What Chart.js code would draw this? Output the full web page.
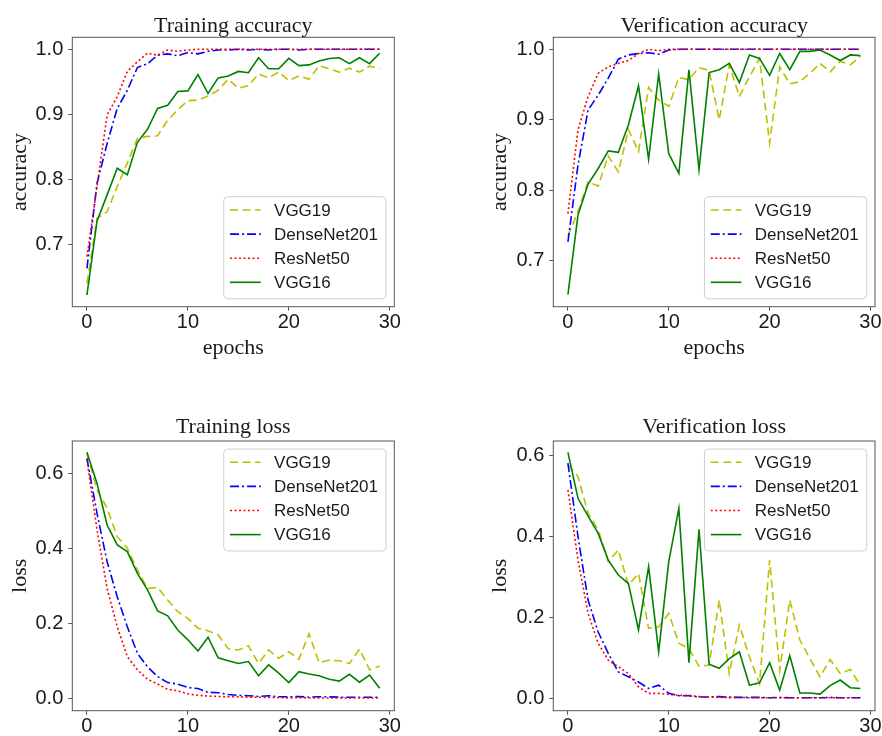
<!DOCTYPE html>
<html>
<head>
<meta charset="utf-8">
<script src="https://cdn.jsdelivr.net/npm/chart.js@4.4.0/dist/chart.umd.min.js"></script>
<style>
  html, body { margin: 0; padding: 0; background: #fff; }
  #wrap { position: relative; width: 882px; height: 736px; overflow: hidden; }
  #wrap canvas { position: absolute; left: 0; top: 0; }
</style>
</head>
<body>
<div id="wrap">
  <canvas id="c1" width="882" height="736"></canvas>
  <canvas id="c2" width="882" height="736"></canvas>
  <canvas id="c3" width="882" height="736"></canvas>
  <canvas id="c4" width="882" height="736"></canvas>
</div>
<script>
// epochs and tick labels
const epochs = [0, 1, 2, 3, 4, 5, 6, 7, 8, 9, 10, 11, 12, 13, 14, 15, 16, 17, 18, 19, 20, 21, 22, 23, 24, 25, 26, 27, 28, 29];
const epochTicks = [0, 10, 20, 30];
const accTicks = [0.7, 0.8, 0.9, 1.0];
const lossTicks = [0.0, 0.2, 0.4, 0.6];
const models = ['VGG19', 'DenseNet201', 'ResNet50', 'VGG16'];

// Training accuracy
const trainAccVGG19 = [0.640, 0.740, 0.750, 0.789, 0.825, 0.863, 0.866, 0.867, 0.891, 0.907, 0.921, 0.922, 0.928, 0.937, 0.954, 0.940, 0.944, 0.962, 0.956, 0.965, 0.952, 0.959, 0.954, 0.975, 0.970, 0.965, 0.971, 0.965, 0.974, 0.970];
const trainAccDenseNet201 = [0.663, 0.794, 0.855, 0.909, 0.937, 0.972, 0.978, 0.991, 0.993, 0.990, 0.995, 0.993, 0.997, 0.999, 0.999, 1.000, 0.999, 1.000, 0.999, 1.000, 1.000, 0.999, 1.000, 1.000, 1.000, 1.000, 1.000, 1.000, 1.000, 1.000];
const trainAccResNet50 = [0.681, 0.789, 0.899, 0.927, 0.966, 0.981, 0.994, 0.991, 0.999, 0.997, 0.999, 1.000, 1.000, 1.000, 1.000, 1.000, 1.000, 1.000, 1.000, 1.000, 1.000, 1.000, 1.000, 1.000, 1.000, 1.000, 1.000, 1.000, 1.000, 1.000];
const trainAccVGG16 = [0.622, 0.736, 0.776, 0.817, 0.807, 0.857, 0.877, 0.909, 0.914, 0.935, 0.936, 0.961, 0.932, 0.956, 0.959, 0.966, 0.964, 0.987, 0.970, 0.970, 0.986, 0.975, 0.976, 0.982, 0.986, 0.987, 0.978, 0.987, 0.978, 0.994];

// Verification accuracy
const valAccVGG19 = [0.735, 0.770, 0.812, 0.806, 0.849, 0.826, 0.886, 0.855, 0.946, 0.928, 0.919, 0.960, 0.957, 0.974, 0.970, 0.900, 0.978, 0.933, 0.961, 0.987, 0.867, 0.975, 0.951, 0.954, 0.966, 0.980, 0.968, 0.983, 0.978, 0.990];
const valAccDenseNet201 = [0.727, 0.836, 0.914, 0.935, 0.959, 0.986, 0.992, 0.994, 0.995, 0.993, 0.999, 1.000, 1.000, 1.000, 1.000, 1.000, 1.000, 1.000, 1.000, 1.000, 1.000, 1.000, 1.000, 1.000, 1.000, 1.000, 1.000, 1.000, 1.000, 1.000];
const valAccResNet50 = [0.767, 0.886, 0.933, 0.966, 0.975, 0.980, 0.984, 0.994, 1.000, 0.998, 1.000, 1.000, 1.000, 1.000, 1.000, 1.000, 1.000, 1.000, 1.000, 1.000, 1.000, 1.000, 1.000, 1.000, 1.000, 1.000, 1.000, 1.000, 1.000, 1.000];
const valAccVGG16 = [0.652, 0.765, 0.809, 0.831, 0.856, 0.854, 0.893, 0.948, 0.844, 0.965, 0.852, 0.824, 0.971, 0.829, 0.967, 0.971, 0.980, 0.953, 0.992, 0.987, 0.963, 0.994, 0.971, 0.997, 0.997, 0.999, 0.992, 0.984, 0.992, 0.991];

// Training loss
const trainLossVGG19 = [0.653, 0.556, 0.507, 0.431, 0.400, 0.342, 0.293, 0.296, 0.262, 0.231, 0.213, 0.187, 0.180, 0.169, 0.132, 0.129, 0.140, 0.093, 0.129, 0.107, 0.124, 0.104, 0.172, 0.095, 0.102, 0.100, 0.093, 0.131, 0.076, 0.086];
const trainLossDenseNet201 = [0.640, 0.493, 0.364, 0.271, 0.191, 0.120, 0.084, 0.058, 0.042, 0.038, 0.029, 0.026, 0.016, 0.015, 0.010, 0.008, 0.007, 0.005, 0.007, 0.004, 0.004, 0.005, 0.003, 0.004, 0.004, 0.003, 0.003, 0.003, 0.003, 0.003];
const trainLossResNet50 = [0.636, 0.449, 0.293, 0.191, 0.111, 0.076, 0.051, 0.038, 0.024, 0.020, 0.012, 0.008, 0.006, 0.005, 0.004, 0.004, 0.003, 0.003, 0.002, 0.002, 0.001, 0.002, 0.001, 0.001, 0.001, 0.001, 0.001, 0.001, 0.001, 0.001];
const trainLossVGG16 = [0.656, 0.573, 0.462, 0.409, 0.391, 0.333, 0.289, 0.233, 0.220, 0.182, 0.156, 0.126, 0.163, 0.108, 0.100, 0.093, 0.098, 0.060, 0.089, 0.067, 0.042, 0.071, 0.065, 0.060, 0.051, 0.046, 0.064, 0.043, 0.062, 0.027];

// Verification loss
const valLossVGG19 = [0.578, 0.549, 0.458, 0.417, 0.338, 0.367, 0.280, 0.309, 0.173, 0.177, 0.210, 0.136, 0.123, 0.079, 0.082, 0.243, 0.061, 0.181, 0.102, 0.036, 0.342, 0.069, 0.243, 0.144, 0.098, 0.053, 0.096, 0.061, 0.071, 0.032];
const valLossDenseNet201 = [0.582, 0.400, 0.243, 0.164, 0.111, 0.065, 0.053, 0.040, 0.024, 0.032, 0.012, 0.006, 0.006, 0.003, 0.003, 0.004, 0.002, 0.002, 0.002, 0.002, 0.001, 0.002, 0.001, 0.001, 0.001, 0.001, 0.002, 0.001, 0.001, 0.001];
const valLossResNet50 = [0.516, 0.342, 0.210, 0.136, 0.094, 0.078, 0.061, 0.028, 0.012, 0.012, 0.009, 0.007, 0.007, 0.004, 0.003, 0.002, 0.002, 0.002, 0.001, 0.001, 0.001, 0.001, 0.001, 0.001, 0.001, 0.001, 0.001, 0.001, 0.001, 0.001];
const valLossVGG16 = [0.609, 0.495, 0.451, 0.408, 0.342, 0.305, 0.284, 0.169, 0.326, 0.115, 0.338, 0.470, 0.088, 0.418, 0.084, 0.074, 0.098, 0.115, 0.032, 0.038, 0.088, 0.020, 0.105, 0.013, 0.013, 0.010, 0.031, 0.045, 0.026, 0.024];

// line styles, same order as models
const lineStyles = [
  { color: '#bfbf00', dash: [8, 4.5] },
  { color: '#0000ff', dash: [9, 3, 2, 3] },
  { color: '#ff0000', dash: [2, 2.5] },
  { color: '#008000', dash: [] }
];

const spineColor = '#555555';
const textColor = '#1a1a1a';
const serifFont = { family: '"Liberation Serif", "Times New Roman", serif', size: 22 };
const tickFont = { family: '"Liberation Sans", Arial, sans-serif', size: 20 };

const panels = [
  { id: 'c1', title: 'Training accuracy', yLabel: 'accuracy', xLabel: 'epochs',
    series: [trainAccVGG19, trainAccDenseNet201, trainAccResNet50, trainAccVGG16],
    yTicks: accTicks, yMin: 0.604, yMax: 1.0185, legendPos: 'lower',
    area: { left: 72.3, top: 37.3, right: 394.3, bottom: 306.7 }, padLeft: 0, titleGap: 5.6 },
  { id: 'c2', title: 'Verification accuracy', yLabel: 'accuracy', xLabel: 'epochs',
    series: [valAccVGG19, valAccDenseNet201, valAccResNet50, valAccVGG16],
    yTicks: accTicks, yMin: 0.635, yMax: 1.017, legendPos: 'lower',
    area: { left: 553.3, top: 37.3, right: 875, bottom: 306.7 }, padLeft: 480, titleGap: 5.6 },
  { id: 'c3', title: 'Training loss', yLabel: 'loss', xLabel: '',
    series: [trainLossVGG19, trainLossDenseNet201, trainLossResNet50, trainLossVGG16],
    yTicks: lossTicks, yMin: -0.033, yMax: 0.686, legendPos: 'upper',
    area: { left: 72.3, top: 441, right: 394.3, bottom: 710.7 }, padLeft: 0, titleGap: 7.7 },
  { id: 'c4', title: 'Verification loss', yLabel: 'loss', xLabel: '',
    series: [valLossVGG19, valLossDenseNet201, valLossResNet50, valLossVGG16],
    yTicks: lossTicks, yMin: -0.031, yMax: 0.637, legendPos: 'upper',
    area: { left: 553.3, top: 441, right: 875, bottom: 710.7 }, padLeft: 480, titleGap: 7.7 }
];

// frame, title and matplotlib-like legend inside the plot area
const panelDecor = {
  id: 'panelDecor',
  afterDatasetsDraw(chart, args, opts) {
    const ctx = chart.ctx;
    const a = chart.chartArea;
    ctx.save();
    ctx.strokeStyle = spineColor;
    ctx.lineWidth = 1;
    ctx.strokeRect(a.left, a.top, a.right - a.left, a.bottom - a.top);

    ctx.fillStyle = textColor;
    ctx.font = '22px "Liberation Serif", "Times New Roman", serif';
    ctx.textAlign = 'center';
    ctx.textBaseline = 'alphabetic';
    ctx.fillText(opts.title, (a.left + a.right) / 2, a.top - opts.titleGap);

    // legend
    ctx.font = '17px "Liberation Sans", Arial, sans-serif';
    const sets = chart.data.datasets;
    const textW = Math.max(...sets.map(d => ctx.measureText(d.label).width));
    const w = 6.3 + 30.7 + 13.3 + textW + 8;
    const h = 102;
    const x = a.right - 8.3 - w;
    const y = opts.legendPos === 'lower' ? a.bottom - 8 - h : a.top + 8;
    ctx.beginPath();
    ctx.roundRect(x, y, w, h, 4);
    ctx.fillStyle = 'rgba(255,255,255,0.85)';
    ctx.fill();
    ctx.strokeStyle = '#d0d0d0';
    ctx.stroke();
    sets.forEach((d, i) => {
      const cy = y + 13.3 + i * 24.1;
      ctx.beginPath();
      ctx.setLineDash(d.borderDash);
      ctx.strokeStyle = d.borderColor;
      ctx.lineWidth = d.borderWidth;
      ctx.moveTo(x + 6.3, cy);
      ctx.lineTo(x + 37, cy);
      ctx.stroke();
      ctx.setLineDash([]);
      ctx.fillStyle = textColor;
      ctx.textAlign = 'left';
      ctx.textBaseline = 'middle';
      ctx.fillText(d.label, x + 50.3, cy + 1);
    });
    ctx.restore();
  }
};

panels.forEach(p => {
  const xAxisH = p.xLabel ? 60 : 25;
  const datasets = p.series.map((values, i) => ({
    label: models[i],
    data: epochs.map((e, j) => ({ x: e, y: values[j] })),
    borderColor: lineStyles[i].color,
    borderDash: lineStyles[i].dash,
    borderWidth: 1.6,
    pointRadius: 0,
    tension: 0,
    fill: false,
    order: models.length - i
  }));

  new Chart(document.getElementById(p.id), {
    type: 'line',
    data: { datasets: datasets },
    plugins: [panelDecor],
    options: {
      responsive: false,
      animation: false,
      events: [],
      layout: {
        padding: {
          left: p.padLeft,
          top: p.area.top,
          right: 882 - p.area.right,
          bottom: 736 - p.area.bottom - xAxisH
        }
      },
      plugins: {
        legend: { display: false },
        tooltip: { enabled: false },
        panelDecor: { title: p.title, titleGap: p.titleGap, legendPos: p.legendPos }
      },
      scales: {
        x: {
          type: 'linear',
          min: -1.45,
          max: 30.45,
          afterBuildTicks: s => { s.ticks = epochTicks.map(v => ({ value: v })); },
          afterFit: s => { s.height = xAxisH; },
          border: { display: false },
          grid: { drawOnChartArea: false, drawTicks: true, tickLength: 4, tickColor: spineColor, color: spineColor },
          ticks: { padding: 0, color: textColor, font: tickFont, maxRotation: 0, autoSkip: false, callback: v => String(v) },
          title: { display: !!p.xLabel, text: p.xLabel, color: textColor, font: serifFont, padding: { top: 0, bottom: 4.9 } }
        },
        y: {
          type: 'linear',
          min: p.yMin,
          max: p.yMax,
          afterBuildTicks: s => { s.ticks = p.yTicks.map(v => ({ value: v })); },
          afterFit: s => { s.width = p.area.left - p.padLeft; },
          border: { display: false },
          grid: { drawOnChartArea: false, drawTicks: true, tickLength: 4, tickColor: spineColor, color: spineColor },
          ticks: { padding: 5, color: textColor, font: tickFont, callback: v => v.toFixed(1) },
          title: { display: true, text: p.yLabel, color: textColor, font: serifFont, padding: { top: 7, bottom: 0 } }
        }
      }
    }
  });
});
</script>
</body>
</html>
